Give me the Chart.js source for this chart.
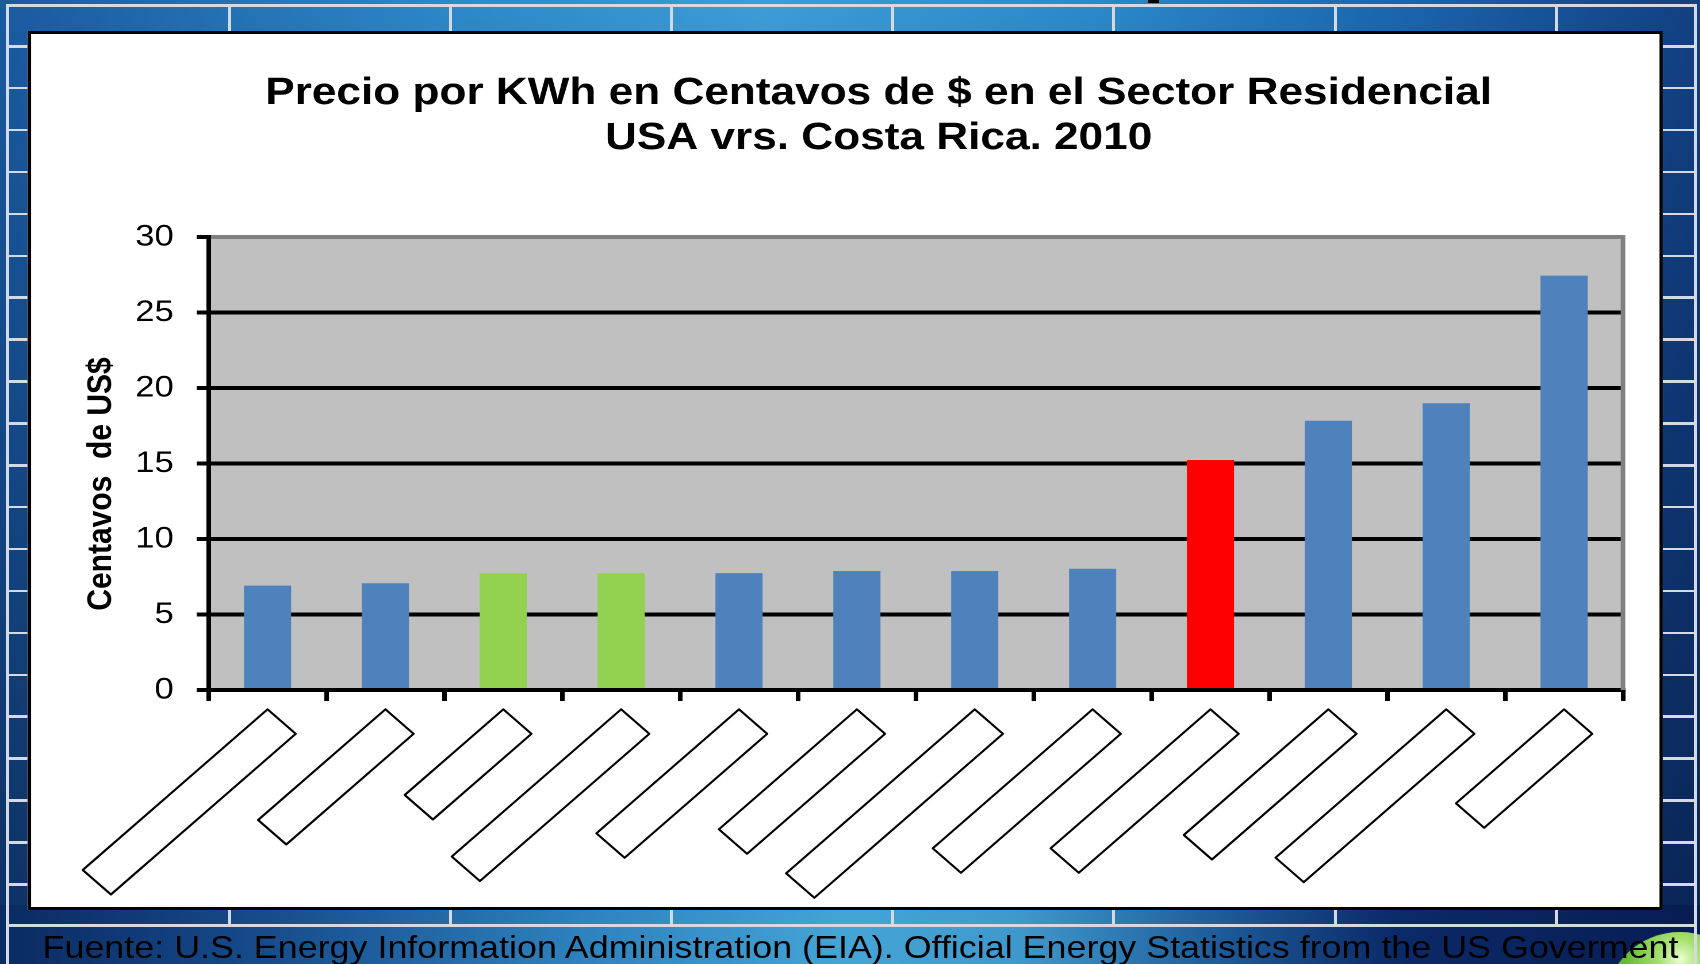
<!DOCTYPE html>
<html lang="es">
<head>
<meta charset="utf-8">
<title>Precio por KWh en Centavos de $ en el Sector Residencial</title>
<script src="https://cdn.jsdelivr.net/npm/chart.js@4.4.1/dist/chart.umd.min.js"></script>
<style>
    html, body { margin: 0; padding: 0; }
    body {
        width: 1700px; height: 964px; overflow: hidden; position: relative;
        font-family: "Liberation Sans", Arial, sans-serif;
    }
    #bg {
        position: absolute; left: 0; top: 0; width: 1700px; height: 964px;
        background:
            linear-gradient(to bottom, rgba(0,0,0,0) 0%, rgba(2,12,45,0.55) 100%),
            linear-gradient(to right, #1a5aa0 0%, #2b86c6 25%, #3b9dd7 45%, #2a88c8 65%, #1a66ae 82%, #123f82 100%);
    }
    #bottomStrip {
        position: absolute; left: 0; top: 905px; width: 1700px; height: 59px;
        background: linear-gradient(to right, #0a2a62 0%, #164a8a 15%, #2f84bf 35%, #45a4d6 50%, #3f98cc 60%, #1d5a98 72%, #0b2a68 82%, #081c52 100%);
    }
    #greenBall {
        position: absolute; left: 1604px; top: 932px; width: 152px; height: 152px; border-radius: 50%;
        background: radial-gradient(circle at 50% 18%, #eaffd0 0%, #a8e070 14%, #5cb82e 40%, #2f7d18 75%, #1e5a10 100%);
    }
    .ln { position: absolute; background: #d3dae6; }
    #speck { position: absolute; left: 1148px; top: 0; width: 11px; height: 3px; background: #000; }
    #stage {
        position: absolute; left: 0; top: 0; width: 1478.26px; height: 964px;
        transform: scaleX(1.15); transform-origin: 0 0;
    }
    #panel {
        position: absolute; left: 23.5px; top: 31px; width: 1416px; height: 873px;
        border: 3px solid #000; background: #fff;
    }
    #fuente {
        position: absolute; left: 37px; top: 932px; font-size: 31.2px; line-height: 31px;
        white-space: nowrap; color: #000;
    }
</style>
</head>
<body>
<div id="bg"></div>
<div id="bottomStrip"></div>
<div id="greenBall"></div>
<div id="frame"></div>
<div id="speck"></div>
<div id="stage">
    <div id="panel"><canvas id="priceChart"></canvas></div>
    <div id="fuente">Fuente: U.S. Energy Information Administration (EIA). Official Energy Statistics from the US Goverment</div>
</div>
<script>
// ===== DATOS =====
// las etiquetas del eje X salen en el original como cajas vacías (texto ilegible)
const categories = ['', '', '', '', '', '', '', '', '', '', '', ''];
const priceCents = [6.91, 7.07, 7.73, 7.73, 7.74, 7.88, 7.88, 8.03, 15.23, 17.83, 18.99, 27.44];
const yMin = 0;
const yMax = 30;
const yStep = 5;
const titleLines = ['Precio por KWh en Centavos de $ en el Sector Residencial', 'USA vrs. Costa Rica. 2010'];
const yTitle = 'Centavos  de US$';

// ===== ESTILO =====
const BLUE = '#4f81bd', GREEN = '#92d050', RED = '#ff0000';
const barColors = [BLUE, BLUE, GREEN, GREEN, BLUE, BLUE, BLUE, BLUE, RED, BLUE, BLUE, BLUE];
// largo de cada caja vacía bajo el eje (px)
const labelBoxLengths = [160.7, 110.7, 85.7, 147.3, 124, 120, 164, 139, 139, 125.7, 148.4, 94];
const FONT = '"Liberation Sans", Arial, sans-serif';

// Marco de la diapositiva (líneas blancas)
function drawSlideFrame() {
    const frame = document.getElementById('frame');
    const add = (x, y, w, h) => {
        const d = document.createElement('div');
        d.className = 'ln';
        d.style.cssText = `left:${x}px;top:${y}px;width:${w}px;height:${h}px`;
        frame.appendChild(d);
    };
    add(6, 4, 1691, 2.5);
    add(6, 924, 1691, 2.5);
    add(6, 4, 2.5, 960);
    add(1694, 4, 2.5, 960);
    [228, 449, 670, 891, 1112, 1334, 1555].forEach(x => {
        add(x, 5, 2.5, 27);
        add(x, 909, 2.5, 16);
    });
    for (let y = 45; y < 905; y += 41.9) {
        add(7, y, 21, 2.5);
        add(1662, y, 33, 2.5);
    }
}

// Fondo gris del área de trazado + borde derecho
const plotBackground = {
    id: 'plotBackground',
    beforeDraw(chart) {
        const { ctx, chartArea: a } = chart;
        ctx.save();
        ctx.fillStyle = '#c0c0c0';
        ctx.fillRect(a.left, a.top, a.right - a.left, a.bottom - a.top);
        ctx.restore();
    },
    beforeDatasetsDraw(chart) {
        const { ctx, chartArea: a } = chart;
        ctx.save();
        ctx.strokeStyle = '#808080';
        ctx.lineWidth = 4;
        ctx.beginPath();
        ctx.moveTo(a.right, a.top - 2);
        ctx.lineTo(a.right, a.bottom);
        ctx.stroke();
        ctx.restore();
    }
};

// Título del eje Y
const yAxisTitle = {
    id: 'yAxisTitle',
    afterDraw(chart) {
        const { ctx, chartArea: a } = chart;
        ctx.save();
        ctx.translate(a.left - 93.2, (a.top + a.bottom) / 2 + 20.5);
        ctx.rotate(-Math.PI / 2);
        ctx.font = 'bold 30px ' + FONT;
        ctx.fillStyle = '#000';
        ctx.textAlign = 'center';
        ctx.textBaseline = 'middle';
        ctx.fillText(yTitle, 0, 0);
        ctx.restore();
    }
};

// Cajas vacías giradas bajo cada categoría
const labelBoxes = {
    id: 'labelBoxes',
    afterDraw(chart) {
        const { ctx } = chart;
        const xs = chart.scales.x;
        const top = xs.top + 19.3;
        const a = 24.5;
        ctx.save();
        ctx.strokeStyle = '#000';
        ctx.fillStyle = '#fff';
        ctx.lineWidth = 2;
        ctx.lineJoin = 'round';
        categories.forEach((c, i) => {
            const x = xs.getPixelForValue(i);
            const b = labelBoxLengths[i];
            ctx.beginPath();
            ctx.moveTo(x, top);
            ctx.lineTo(x + a, top + a);
            ctx.lineTo(x + a - b, top + a + b);
            ctx.lineTo(x - b, top + b);
            ctx.closePath();
            ctx.fill();
            ctx.stroke();
        });
        ctx.restore();
    }
};

function initChart() {
    const ctx = document.getElementById('priceChart');
    new Chart(ctx, {
        type: 'bar',
        data: {
            labels: categories,
            datasets: [{
                data: priceCents,
                backgroundColor: barColors,
                borderWidth: 0,
                barPercentage: 0.4,
                categoryPercentage: 1
            }]
        },
        options: {
            responsive: true,
            maintainAspectRatio: false,
            animation: false,
            devicePixelRatio: 2,
            layout: { padding: { left: 89.7, right: 31.7, top: 0, bottom: 0 } },
            plugins: {
                legend: { display: false },
                tooltip: { enabled: false },
                title: {
                    display: true,
                    text: titleLines,
                    color: '#000',
                    font: { family: FONT, size: 38.4, weight: 'bold', lineHeight: 1.18 },
                    padding: { top: 36.6, bottom: 75.8 }
                }
            },
            scales: {
                x: {
                    z: 1,
                    grid: { offset: true, drawOnChartArea: false, drawTicks: true, tickLength: 11, color: '#000', lineWidth: 4 },
                    border: { color: '#000', width: 4 },
                    ticks: { display: false },
                    afterFit: s => { s.height = 217; }
                },
                y: {
                    min: yMin,
                    max: yMax,
                    ticks: { stepSize: yStep, color: '#000', font: { family: FONT, size: 30 }, padding: 20 },
                    grid: {
                        color: c => (c.tick && c.tick.value === yMax) ? '#808080' : '#000',
                        tickColor: '#000',
                        lineWidth: 4,
                        tickLength: 10.4
                    },
                    border: { color: '#000', width: 4 },
                    afterFit: s => { s.width = 64.7; }
                }
            }
        },
        plugins: [plotBackground, yAxisTitle, labelBoxes]
    });
}

drawSlideFrame();
initChart();
</script>
</body>
</html>
